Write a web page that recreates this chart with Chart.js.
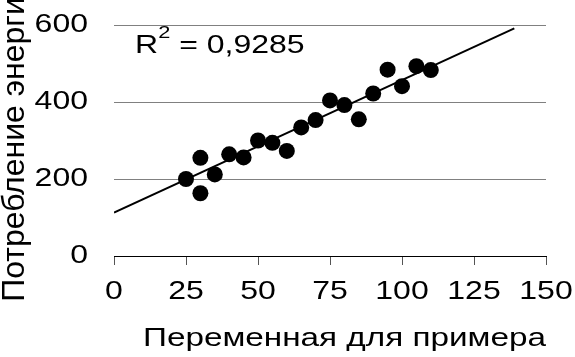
<!DOCTYPE html>
<html>
<head>
<meta charset="utf-8">
<script src="https://cdn.jsdelivr.net/npm/chart.js@4.4.1/dist/chart.umd.min.js"></script>
<style>
html,body{margin:0;padding:0;background:#fff;}
#wrap{width:575px;height:357px;position:relative;}
</style>
</head>
<body>
<div id="wrap"><canvas id="c"></canvas></div>
<script>
// ---- data ----
const xValues = [25, 30, 30, 35, 40, 45, 50, 55, 60, 65, 70, 75, 80, 85, 90, 95, 100, 105, 110];
const yValues = [200, 255, 163, 212, 264, 256, 300, 294, 273, 334, 353, 404, 392, 355, 422, 484, 441, 493, 483];
const trendX = [0, 139];
const trendY = [113, 591];
const xTicks = [0, 25, 50, 75, 100, 125, 150];
const yTicks = [0, 200, 400, 600];
const xTitle = 'Переменная для примера';
const yTitle = 'Потребление энергии';
const r2Main = 'R';
const r2Sup = '2';
const r2Rest = ' = 0,9285';
const r2Anchor = [7.3, 527];

const FONT = '"Liberation Sans", Arial, sans-serif';
const TEXT_STRETCH = 1.28; // horizontal text in the reference is drawn wide

const points = xValues.map((x, i) => ({x: x, y: yValues[i]}));
const trend = trendX.map((x, i) => ({x: x, y: trendY[i]}));

// Horizontal text is drawn horizontally widened; rotated text is left as is.
function widenText(ctx) {
  if (ctx.__widened) return;
  ctx.__widened = true;
  const origFill = ctx.fillText;
  const origMeasure = ctx.measureText;
  ctx.fillText = function (text, x, y, maxWidth) {
    const m = this.getTransform();
    if (Math.abs(m.b) > 1e-6 || Math.abs(m.c) > 1e-6) {
      return maxWidth === undefined ? origFill.call(this, text, x, y) : origFill.call(this, text, x, y, maxWidth);
    }
    this.save();
    this.translate(x, y);
    this.scale(TEXT_STRETCH, 1);
    if (maxWidth === undefined) origFill.call(this, text, 0, 0);
    else origFill.call(this, text, 0, 0, maxWidth / TEXT_STRETCH);
    this.restore();
  };
  ctx.measureText = function (text) {
    const r = origMeasure.call(this, text);
    return {
      width: r.width * TEXT_STRETCH,
      actualBoundingBoxAscent: r.actualBoundingBoxAscent,
      actualBoundingBoxDescent: r.actualBoundingBoxDescent,
      actualBoundingBoxLeft: r.actualBoundingBoxLeft * TEXT_STRETCH,
      actualBoundingBoxRight: r.actualBoundingBoxRight * TEXT_STRETCH
    };
  };
}

const widenPlugin = {
  id: 'widen',
  beforeInit(chart) { widenText(chart.ctx); }
};

const r2Plugin = {
  id: 'r2',
  afterDraw(chart) {
    const ctx = chart.ctx;
    const px = chart.scales.x.getPixelForValue(r2Anchor[0]);
    const py = chart.scales.y.getPixelForValue(r2Anchor[1]);
    ctx.save();
    ctx.fillStyle = '#000';
    ctx.textBaseline = 'alphabetic';
    ctx.textAlign = 'left';
    ctx.font = '25px ' + FONT;
    ctx.fillText(r2Main, px, py);
    let w = ctx.measureText(r2Main).width;
    ctx.font = '17px ' + FONT;
    ctx.fillText(r2Sup, px + w, py - 15);
    w += ctx.measureText(r2Sup).width;
    ctx.font = '25px ' + FONT;
    ctx.fillText(r2Rest, px + w, py);
    ctx.restore();
  }
};

new Chart(document.getElementById('c'), {
  type: 'scatter',
  data: {
    datasets: [
      {
        data: points,
        backgroundColor: '#000',
        borderColor: '#000',
        pointRadius: 8,
        pointHoverRadius: 8,
        pointBorderWidth: 0,
        order: 1
      },
      {
        type: 'line',
        data: trend,
        borderColor: '#000',
        borderWidth: 2,
        pointRadius: 0,
        fill: false,
        tension: 0,
        order: 2
      }
    ]
  },
  options: {
    responsive: true,
    maintainAspectRatio: false,
    animation: false,
    events: [],
    layout: {padding: {left: 0, right: 29, top: 25, bottom: 0}},
    plugins: {legend: {display: false}, tooltip: {enabled: false}},
    scales: {
      x: {
        type: 'linear',
        min: xTicks[0],
        max: xTicks[xTicks.length - 1],
        afterBuildTicks(scale) { scale.ticks = xTicks.map(v => ({value: v})); },
        afterFit(scale) { scale.height = 101; scale.paddingLeft = 0; scale.paddingRight = 0; },
        grid: {drawOnChartArea: false, drawTicks: true, tickLength: 9, color: '#555', lineWidth: 1},
        border: {display: true, color: '#000', width: 1},
        ticks: {color: '#000', font: {family: FONT, size: 25}, padding: 12, maxRotation: 0, autoSkip: false},
        title: {display: true, text: xTitle, align: 'end', color: '#000', font: {family: FONT, size: 26}, padding: {top: 0, bottom: 3}}
      },
      y: {
        type: 'linear',
        min: yTicks[0],
        max: yTicks[yTicks.length - 1],
        afterBuildTicks(scale) { scale.ticks = yTicks.map(v => ({value: v})); },
        afterFit(scale) { scale.width = 114; scale.paddingTop = 0; scale.paddingBottom = 0; },
        grid: {drawTicks: false, color: (c) => c.tick && c.tick.value === 0 ? 'rgba(0,0,0,0)' : '#808080', lineWidth: 1},
        border: {display: false},
        ticks: {color: '#000', font: {family: FONT, size: 25}, padding: 26},
        title: {display: true, text: yTitle, color: '#000', font: {family: FONT, size: 32}, padding: {top: -4, bottom: 0}}
      }
    }
  },
  plugins: [widenPlugin, r2Plugin]
});
</script>
</body>
</html>
